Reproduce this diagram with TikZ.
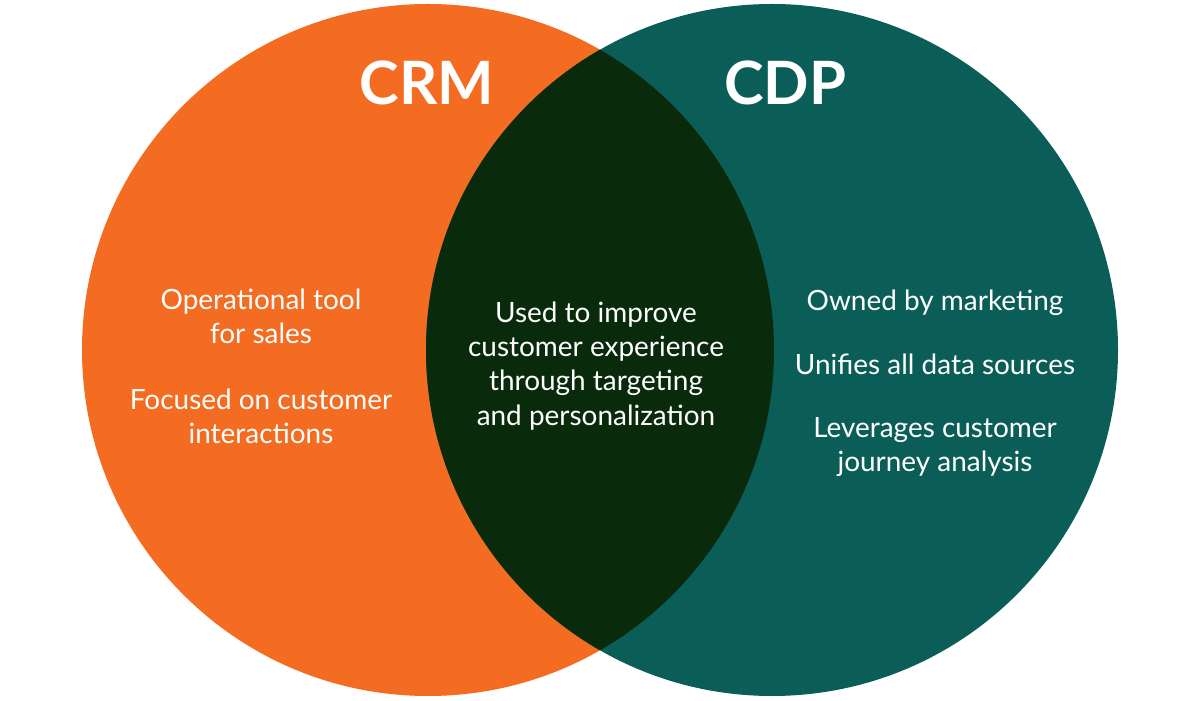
\documentclass[tikz,border=0pt]{standalone}
\usepackage{fontspec}
\setmainfont{Lato}
\usetikzlibrary{positioning}
\definecolor{crmorange}{HTML}{F36C21}
\definecolor{cdpteal}{HTML}{0B5E57}
\definecolor{overlap}{HTML}{0A2A0C}
\tikzset{
  heading/.style={
    text = white,
    font = \fontsize{34}{40}\selectfont\bfseries,
    inner sep = 0pt
  },
  blurb/.style={
    text = white,
    align = center,
    font = \fontsize{15.9}{19.4}\selectfont,
    inner sep = 0pt
  },
}
\begin{document}
\begin{tikzpicture}
    \def\r{6.92}
    \useasboundingbox (0,0) rectangle (24,14);
    \coordinate (crmc) at (8.56,7);
    \coordinate (cdpc) at (15.44,7);
        \fill[crmorange] (crmc) circle (\r);
        \fill[cdpteal] (cdpc) circle (\r);
        \begin{scope}
        \clip (crmc) circle (\r);
        \fill[overlap] (cdpc) circle (\r);
        \end{scope}
        \node[heading] (crm) at (8.54,12.34) {CRM};
        \node[heading] (cdp) at (15.70,12.34) {CDP};
        \node[blurb] (sales) at (5.22,7.68) {Operational tool\\for sales};
        \node[blurb] (focus) at (5.22,5.68) {Focused on customer\\interactions};
        \node[blurb] (both) at (11.92,6.68) {Used to improve\\customer experience\\through targeting\\and personalization};
        \node[blurb] (owned) at (18.70,7.94) {Owned by marketing};
        \node[blurb] (unify) at (18.70,6.72) {Unifies all data sources};
        \node[blurb] (journey) at (18.70,5.06) {Leverages customer\\journey analysis};
    \end{tikzpicture}
\end{document}
